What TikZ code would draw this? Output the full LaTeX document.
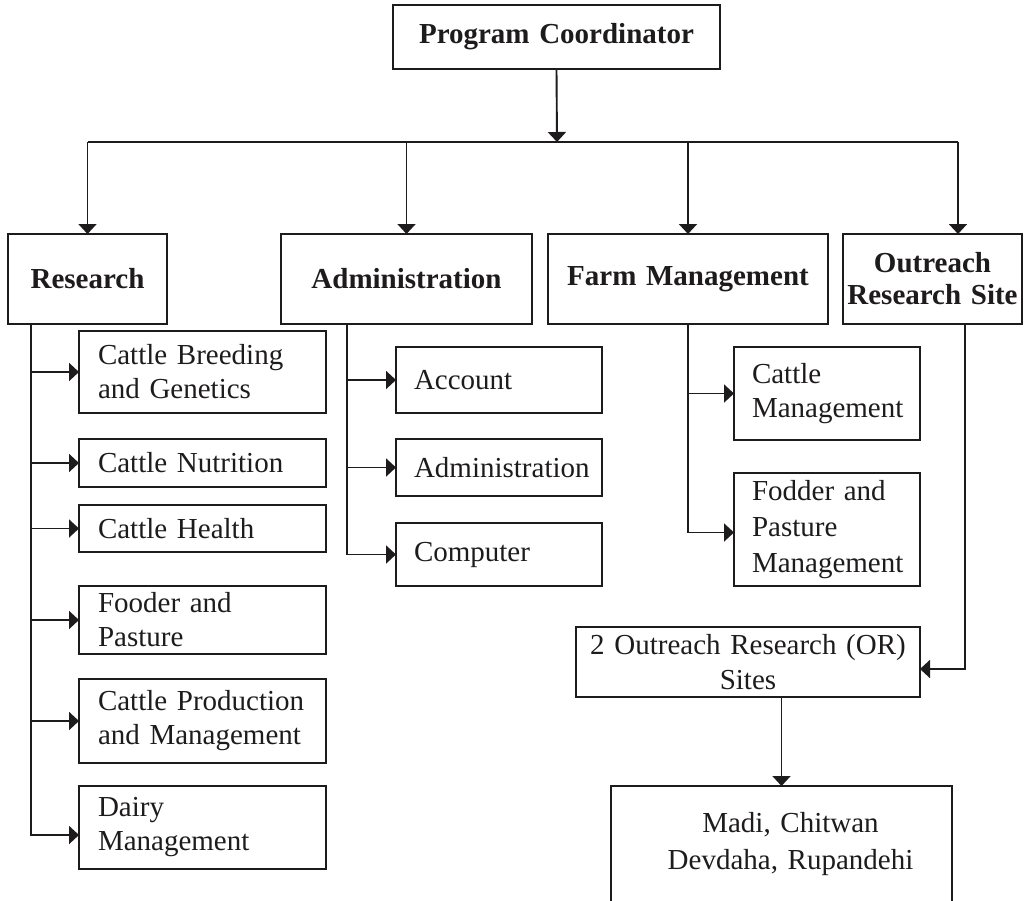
\documentclass[tikz,border=0pt]{standalone}
\usepackage{fontspec}
\setmainfont{Liberation Serif}
\usetikzlibrary{arrows.meta}
\definecolor{ink}{RGB}{30,27,28}
\newcommand{\ind}{\hspace*{19pt}}
\newcommand{\indb}{\hspace*{18pt}}
\tikzset{
  box/.style={draw=ink, line width=1.9pt, anchor=north west, outer sep=0pt,
    inner xsep=0pt, inner ysep=0pt, text=ink},
  topbox/.style={box, align=center, font=\fontsize{29}{32}\selectfont\bfseries},
  subbox/.style={box, align=left, font=\fontsize{29}{34}\selectfont},
  conn/.style={draw=ink, line width=1.9pt},
  arr/.style={conn, -{Triangle[length=10pt,width=18pt]}},
}
\begin{document}
\begin{tikzpicture}[x=1pt,y=-1pt]
\useasboundingbox (0,0) rectangle (1028,900);
\clip (0,0) rectangle (1028,900);
% top level
\node[topbox, text width=327pt, minimum height=64pt] (pc) at (393,5) {Program Coordinator};
\node[topbox, text width=159pt, minimum height=90pt] (res) at (8,234) {Research};
\node[topbox, text width=251pt, minimum height=90pt] (adm) at (281,234) {Administration};
\node[topbox, text width=280pt, minimum height=90pt] (farm) at (548,234) {Farm Management};
\node[topbox, text width=179pt, minimum height=90pt] (out) at (843,234) {Outreach\\Research Site};
% research units
\node[subbox, text width=247pt, minimum height=82pt] (cb) at (79,331) {\ind Cattle Breeding\\\ind and Genetics};
\node[subbox, text width=247pt, minimum height=48pt] (cn) at (79,439) {\ind Cattle Nutrition};
\node[subbox, text width=247pt, minimum height=47pt] (ch) at (79,505) {\ind Cattle Health};
\node[subbox, text width=247pt, minimum height=68pt] (fp) at (79,586) {\ind Fooder and\\\ind Pasture};
\node[subbox, text width=247pt, minimum height=84pt] (cp) at (79,679) {\ind Cattle Production\\\ind and Management};
\node[subbox, text width=247pt, minimum height=83pt] (dm) at (79,786) {\ind Dairy\\\ind Management};
% administration units
\node[subbox, text width=206pt, minimum height=66pt] (acc) at (396,347) {\indb Account};
\node[subbox, text width=206pt, minimum height=57pt] (adm2) at (396,439) {\indb Administration};
\node[subbox, text width=206pt, minimum height=63pt] (comp) at (396,523) {\indb Computer};
% farm units
\node[subbox, text width=186pt, minimum height=93pt] (cm) at (734,347) {\indb Cattle\\\indb Management};
\node[subbox, text width=186pt, minimum height=113pt, font=\fontsize{29}{36}\selectfont] (fpm) at (734,473) {\indb Fodder and\\\indb Pasture\\\indb Management};
% outreach
\node[box, align=center, text width=344pt, minimum height=70pt, font=\fontsize{29}{35}\selectfont] (ors) at (576,627) {2 Outreach Research (OR)\\Sites};
\node[box, align=center, text width=341pt, minimum height=116pt, font=\fontsize{29}{37}\selectfont] (madi) at (611,786) {\indb Madi, Chitwan\\\indb Devdaha, Rupandehi};
% connectors from coordinator
\coordinate (j) at (557,142);
\coordinate (jl) at (res.north |- j);
\coordinate (jr) at (958,142);
\draw[arr] (pc.south) -- (j);
\draw[conn] (jl) -- (jr);
\draw[arr] (jl) -- (res.north);
\draw[arr] (adm.north |- j) -- (adm.north);
\draw[arr] (farm.north |- j) -- (farm.north);
\draw[arr] (jr) -- (jr |- out.north);
% research trunk
\coordinate (rt) at ([xshift=23pt]res.south west);
\coordinate (dmin) at ([yshift=-7.5pt]dm.west);
\draw[arr] (rt) |- (dmin);
\draw[arr] (rt |- cb.west) -- (cb.west);
\draw[arr] (rt |- cn.west) -- (cn.west);
\draw[arr] (rt |- ch.west) -- (ch.west);
\draw[arr] (rt |- fp.west) -- (fp.west);
\draw[arr] (rt |- cp.west) -- (cp.west);
% administration trunk
\coordinate (at) at ([xshift=66pt]adm.south west);
\draw[arr] (at) |- (comp.west);
\draw[arr] (at |- acc.west) -- (acc.west);
\draw[arr] (at |- adm2.west) -- (adm2.west);
% farm trunk
\draw[arr] (farm.south) |- ([yshift=-3pt]fpm.west);
\draw[arr] (farm.south |- cm.west) -- (cm.west);
% outreach trunk
\coordinate (ot) at ([xshift=122pt]out.south west);
\draw[arr] (ot) |- ([yshift=-7pt]ors.east);
\draw[arr] (madi.north |- ors.south) -- (madi.north);
\end{tikzpicture}
\end{document}
